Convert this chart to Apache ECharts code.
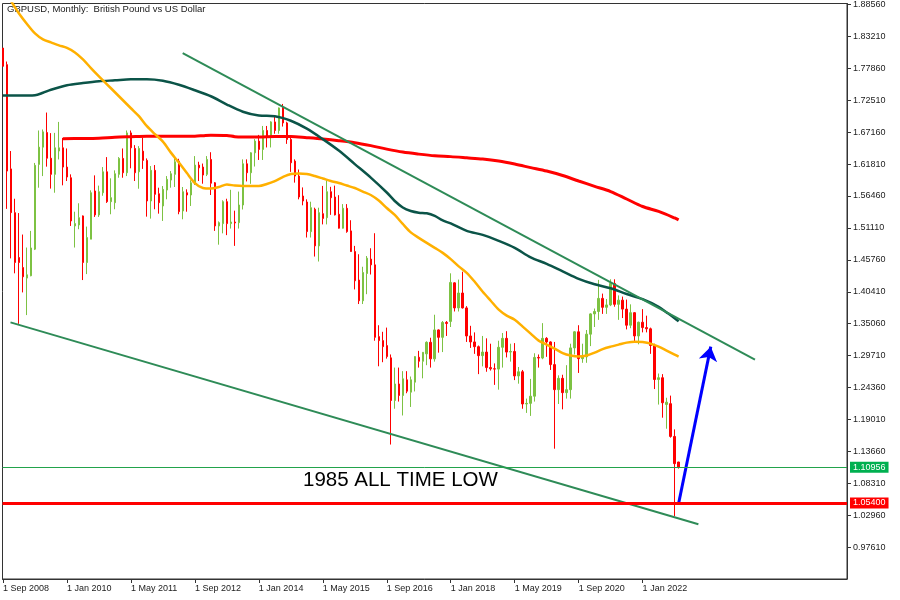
<!DOCTYPE html>
<html><head><meta charset="utf-8">
<script src="https://cdn.jsdelivr.net/npm/echarts@6/dist/echarts.min.js"></script>
<style>html,body{margin:0;padding:0;background:#fff}#c{width:900px;height:600px}</style>
</head><body><div id="c"></div>
<script>
// Monthly GBPUSD candles from Sep 2008, each [open, high, low, close]
const ohlc = [
[1.8126,1.8126,1.7820,1.7820],[1.7848,1.7900,1.5430,1.6064],[1.6100,1.6400,1.4600,1.5367],[1.5367,1.5600,1.4350,1.4531],
[1.4615,1.5360,1.3503,1.4531],[1.4447,1.5000,1.4030,1.4292],[1.4270,1.4782,1.3650,1.4325],[1.4309,1.5061,1.4300,1.4775],
[1.4755,1.6200,1.4740,1.6160],[1.6176,1.6744,1.5785,1.6465],[1.6465,1.6761,1.5980,1.6721],[1.6710,1.7045,1.6138,1.6279],
[1.6279,1.6700,1.5770,1.6009],[1.6009,1.6704,1.5701,1.6454],[1.6400,1.6888,1.6259,1.6454],[1.6454,1.6621,1.5825,1.6131],
[1.6131,1.6443,1.5897,1.5964],[1.5952,1.6009,1.5144,1.5228],[1.5144,1.5383,1.4782,1.5183],[1.5161,1.5524,1.5089,1.5283],
[1.5312,1.5320,1.4237,1.4531],[1.4531,1.5133,1.4337,1.4949],[1.4922,1.5741,1.4922,1.5701],[1.5730,1.5992,1.5295,1.5329],
[1.5329,1.5820,1.5295,1.5718],[1.5701,1.6131,1.5650,1.6052],[1.6052,1.6298,1.5530,1.5551],[1.5551,1.5942,1.5340,1.5618],
[1.5534,1.6076,1.5424,1.6019],[1.6009,1.6298,1.5952,1.6276],[1.6276,1.6443,1.5952,1.6036],[1.6036,1.6744,1.5980,1.6704],
[1.6704,1.6744,1.6110,1.6454],[1.6443,1.6499,1.5897,1.6036],[1.6052,1.6482,1.5768,1.6443],[1.6398,1.6621,1.6100,1.6243],
[1.6243,1.6276,1.5300,1.5563],[1.5563,1.6148,1.5267,1.6076],[1.6076,1.6165,1.5424,1.5674],[1.5684,1.5785,1.5350,1.5534],
[1.5479,1.5813,1.5228,1.5757],[1.5746,1.5980,1.5591,1.5925],[1.5913,1.6064,1.5785,1.6019],[1.6009,1.6286,1.5797,1.6220],
[1.6231,1.6270,1.5340,1.5384],[1.5395,1.5797,1.5256,1.5718],[1.5701,1.5758,1.5383,1.5663],[1.5663,1.5910,1.5479,1.5868],
[1.5852,1.6315,1.5830,1.6164],[1.6164,1.6220,1.5897,1.6119],[1.6131,1.6190,1.5852,1.5997],[1.6009,1.6315,1.5980,1.6259],
[1.6259,1.6380,1.5663,1.5860],[1.5868,1.5880,1.5061,1.5144],[1.5144,1.5220,1.4830,1.5199],[1.5183,1.5574,1.5020,1.5551],
[1.5551,1.5600,1.4990,1.5183],[1.5183,1.5750,1.5100,1.5210],[1.5210,1.5400,1.4810,1.5195],[1.5200,1.5720,1.5100,1.5495],
[1.5495,1.6260,1.5420,1.6186],[1.6186,1.6260,1.5890,1.6036],[1.6036,1.6380,1.5850,1.6370],[1.6370,1.6600,1.6140,1.6566],
[1.6566,1.6670,1.6250,1.6427],[1.6427,1.6820,1.6250,1.6744],[1.6744,1.6820,1.6460,1.6649],[1.6649,1.6900,1.6460,1.6888],
[1.6888,1.6990,1.6690,1.6744],[1.6744,1.7130,1.6690,1.7122],[1.7122,1.7189,1.6810,1.6871],[1.6871,1.6890,1.6520,1.6594],
[1.6594,1.6650,1.6050,1.6203],[1.6231,1.6260,1.5870,1.5980],[1.5980,1.6090,1.5590,1.5629],[1.5646,1.5790,1.5490,1.5562],
[1.5545,1.5590,1.4950,1.5049],[1.5049,1.5550,1.4950,1.5450],[1.5423,1.5450,1.4631,1.4810],[1.4810,1.5450,1.4548,1.5367],
[1.5350,1.5815,1.5170,1.5270],[1.5283,1.5908,1.5170,1.5718],[1.5718,1.5800,1.5330,1.5618],[1.5629,1.5820,1.5320,1.5329],
[1.5340,1.5660,1.5100,1.5106],[1.5106,1.5510,1.5100,1.5440],[1.5440,1.5510,1.5030,1.5049],[1.5061,1.5240,1.4710,1.4715],
[1.4715,1.4810,1.4080,1.4225],[1.4237,1.4670,1.3835,1.3890],[1.3890,1.4460,1.3835,1.4363],[1.4347,1.4640,1.4000,1.4604],
[1.4588,1.4770,1.4330,1.4492],[1.4492,1.5022,1.3220,1.3277],[1.3289,1.3480,1.2792,1.3222],[1.3222,1.3370,1.2860,1.3121],
[1.3138,1.3440,1.2920,1.2954],[1.2933,1.2990,1.1480,1.2218],[1.2218,1.2770,1.2080,1.2495],[1.2495,1.2770,1.2200,1.2302],
[1.2302,1.2710,1.1967,1.2582],[1.2565,1.2710,1.2340,1.2374],[1.2358,1.2620,1.2110,1.2565],[1.2525,1.2960,1.2370,1.2954],
[1.2943,1.3050,1.2770,1.2876],[1.2876,1.3030,1.2590,1.3026],[1.3000,1.3210,1.2810,1.3194],[1.3194,1.3270,1.2770,1.2916],
[1.2916,1.3656,1.2870,1.3401],[1.3401,1.3410,1.3020,1.3277],[1.3277,1.3550,1.3030,1.3527],[1.3527,1.3550,1.3300,1.3510],
[1.3544,1.4350,1.3450,1.4197],[1.4190,1.4200,1.3710,1.3770],[1.3770,1.4245,1.3710,1.4020],[1.4020,1.4377,1.3760,1.3770],
[1.3770,1.3800,1.3200,1.3300],[1.3300,1.3470,1.3100,1.3200],[1.3200,1.3360,1.3000,1.3120],[1.3120,1.3140,1.2660,1.2970],
[1.2970,1.3300,1.2790,1.3030],[1.3030,1.3260,1.2700,1.2770],[1.2770,1.3170,1.2720,1.2750],[1.2750,1.2840,1.2480,1.2745],
[1.2745,1.3220,1.2400,1.3110],[1.3110,1.3350,1.2770,1.3260],[1.3260,1.3380,1.2940,1.3030],[1.3030,1.3170,1.2870,1.3040],
[1.3040,1.3180,1.2560,1.2630],[1.2630,1.2780,1.2500,1.2700],[1.2700,1.2730,1.2080,1.2160],[1.2160,1.2250,1.2010,1.2170],
[1.2170,1.2580,1.1960,1.2290],[1.2290,1.3010,1.2200,1.2940],[1.2940,1.2990,1.2770,1.2930],[1.2930,1.3515,1.2910,1.3260],
[1.3260,1.3280,1.2950,1.3200],[1.3200,1.3210,1.2730,1.2820],[1.2820,1.3200,1.1410,1.2400],[1.2400,1.2640,1.2160,1.2590],
[1.2590,1.2650,1.2070,1.2350],[1.2350,1.2810,1.2250,1.2400],[1.2400,1.3170,1.2250,1.3100],[1.3100,1.3380,1.2990,1.3370],
[1.3370,1.3480,1.2680,1.2920],[1.2920,1.3170,1.2850,1.2950],[1.2950,1.3400,1.2850,1.3330],[1.3330,1.3680,1.3130,1.3670],
[1.3670,1.3760,1.3450,1.3710],[1.3710,1.4240,1.3570,1.3930],[1.3930,1.4010,1.3670,1.3780],[1.3780,1.3920,1.3670,1.3820],
[1.3820,1.4250,1.3800,1.4180],[1.4180,1.4250,1.3790,1.3830],[1.3830,1.3980,1.3570,1.3900],[1.3900,1.3960,1.3600,1.3750],
[1.3750,1.3910,1.3410,1.3480],[1.3480,1.3830,1.3430,1.3690],[1.3690,1.3700,1.3190,1.3300],[1.3300,1.3540,1.3160,1.3530],
[1.3530,1.3750,1.3360,1.3440],[1.3440,1.3640,1.3360,1.3420],[1.3420,1.3440,1.3000,1.3140],[1.3140,1.3170,1.2410,1.2570],
[1.2570,1.2670,1.2150,1.2600],[1.2600,1.2660,1.1930,1.2180],[1.2152,1.2264,1.1745,1.2190],[1.2165,1.2300,1.1595,1.1616],
[1.1616,1.1734,1.0280,1.1160],[1.1187,1.1190,1.1076,1.1096]
];

// Time axis: month index 0 = Sep 2008
const xTickIdx = [0,16,32,48,64,80,96,112,128,144,160];
const xTickLabels = ['1 Sep 2008','1 Jan 2010','1 May 2011','1 Sep 2012','1 Jan 2014','1 May 2015','1 Sep 2016','1 Jan 2018','1 May 2019','1 Sep 2020','1 Jan 2022'];
const yTicks = [1.88560,1.83210,1.77860,1.72510,1.67160,1.61810,1.56460,1.51110,1.45760,1.40410,1.35060,1.29710,1.24360,1.19010,1.13660,1.08310,1.02960,0.97610];

// Moving averages: [month index, price]
const maOrange = [[2,1.8915],[4,1.8706],[6,1.8530],[8,1.8371],[10,1.8271],[12,1.8221],[14,1.8171],[16,1.8129],[18,1.8053],[20,1.7936],[22,1.7791],[24,1.7652],[26,1.7519],[28,1.7385],[30,1.7251],[32,1.7117],[34,1.6984],[36,1.6816],[38,1.6683],[40,1.6557],[42,1.6373],[44,1.6206],[46,1.6030],[48,1.5863],[50,1.5780],[52,1.5771],[54,1.5796],[56,1.5838],[58,1.5821],[60,1.5813],[62,1.5813],[64,1.5813],[66,1.5847],[68,1.5897],[70,1.5964],[72,1.6014],[74,1.6025],[76,1.6014],[78,1.5980],[80,1.5939],[82,1.5897],[84,1.5863],[86,1.5821],[88,1.5780],[90,1.5721],[92,1.5663],[94,1.5571],[96,1.5445],[98,1.5328],[100,1.5178],[102,1.5036],[104,1.4944],[106,1.4860],[108,1.4777],[110,1.4693],[112,1.4588],[114,1.4467],[116,1.4359],[118,1.4208],[120,1.4041],[122,1.3890],[124,1.3740],[126,1.3640],[128,1.3573],[130,1.3456],[132,1.3339],[134,1.3222],[136,1.3155],[138,1.3088],[140,1.3013],[142,1.2971],[144,1.2954],[146,1.2971],[148,1.3021],[150,1.3080],[152,1.3121],[154,1.3155],[156,1.3188],[158,1.3205],[160,1.3197],[162,1.3172],[164,1.3121],[166,1.3055],[168,1.2988],[169,1.2954]];
const maTeal = [[0,1.7330],[4,1.7330],[8,1.7335],[10,1.7376],[12,1.7427],[16,1.7502],[20,1.7539],[24,1.7569],[28,1.7585],[32,1.7602],[36,1.7602],[40,1.7577],[44,1.7510],[48,1.7418],[52,1.7318],[56,1.7179],[60,1.7059],[64,1.6995],[68,1.6984],[72,1.6908],[76,1.6775],[80,1.6599],[84,1.6407],[88,1.6181],[92,1.5955],[96,1.5705],[98,1.5562],[100,1.5454],[102,1.5395],[104,1.5367],[106,1.5357],[108,1.5312],[110,1.5236],[112,1.5186],[116,1.5061],[120,1.4994],[124,1.4894],[128,1.4777],[132,1.4618],[136,1.4509],[140,1.4384],[144,1.4258],[148,1.4166],[152,1.4099],[156,1.4003],[160,1.3916],[164,1.3790],[166,1.3695],[168,1.3598],[169,1.3544]];
const maRed = [[15,1.6607],[20,1.6610],[24,1.6616],[28,1.6632],[32,1.6641],[36,1.6649],[40,1.6649],[44,1.6649],[48,1.6649],[50,1.6657],[52,1.6666],[56,1.6661],[58,1.6641],[60,1.6637],[64,1.6637],[68,1.6644],[72,1.6644],[76,1.6624],[80,1.6602],[84,1.6574],[88,1.6540],[92,1.6490],[96,1.6432],[100,1.6382],[104,1.6348],[108,1.6320],[112,1.6306],[116,1.6286],[120,1.6265],[124,1.6231],[128,1.6181],[132,1.6122],[136,1.6064],[140,1.5989],[144,1.5897],[148,1.5808],[152,1.5721],[156,1.5596],[160,1.5470],[164,1.5387],[168,1.5278],[169,1.5245]];

// Drawn objects: [month index, price]
const upperTrend = [[44.95,1.8042],[188.1,1.2904]];
const lowerTrend = [[1.875,1.3528],[173.95,1.0145]];
const arrowLine = [[168.95,1.0475],[177.05,1.3121]];
const priceNow = 1.10956;
const lowLevel = 1.05400;
const annotation = '1985 ALL TIME LOW';
const chartTitle = 'GBPUSD, Monthly:  British Pound vs US Dollar';

const GREEN = '#7dc243', RED = '#ff0000', FONT = 'Liberation Sans';
const chart = echarts.init(document.getElementById('c'), null, {renderer:'canvas'});
const lbl = (bg, v) => ({show:true, position:'end', distance:3, formatter:v.toFixed(5),
  backgroundColor:bg, color:'#fff', fontSize:9, fontFamily:FONT, padding:[1,3,1,3]});

chart.setOption({
  animation:false,
  grid:{left:2, right:53, top:2, bottom:21, show:true, borderColor:'#333', borderWidth:1, containLabel:false},
  xAxis:{type:'value', min:-0.125, max:211.125,
    axisLine:{show:true, onZero:false, lineStyle:{color:'#333'}},
    axisTick:{show:true, length:4, inside:false, customValues:xTickIdx, lineStyle:{color:'#333'}},
    axisLabel:{customValues:xTickIdx, align:'left', margin:5, fontSize:9, fontFamily:FONT, color:'#222',
      formatter:(v)=>xTickLabels[xTickIdx.indexOf(Math.round(v))] || ''},
    splitLine:{show:false}},
  yAxis:{type:'value', position:'right', min:0.92261, max:1.88727, scale:true,
    axisLine:{show:true, onZero:false, lineStyle:{color:'#333'}},
    axisTick:{show:true, length:4, inside:false, customValues:yTicks, lineStyle:{color:'#333'}},
    axisLabel:{customValues:yTicks, margin:6, fontSize:9, fontFamily:FONT, color:'#222',
      formatter:(v)=>v.toFixed(5)},
    splitLine:{show:false}},
  series:[
    {type:'candlestick', data:ohlc.map((d,i)=>[i,d[0],d[3],d[2],d[1]]), barWidth:2, silent:true, clip:true,
     itemStyle:{color:GREEN, color0:RED, borderColor:GREEN, borderColor0:RED, borderWidth:1},
     markLine:{silent:true, symbol:'none', animation:false,
       data:[
         {yAxis:priceNow, lineStyle:{color:'#22a34b', width:1, type:'solid'}, label:lbl('#00b050', priceNow)},
         {yAxis:lowLevel, lineStyle:{color:RED, width:3, type:'solid'}, label:lbl(RED, lowLevel)}
       ]}},
    {type:'line', data:maRed, showSymbol:false, smooth:0.3, silent:true, lineStyle:{color:'#ff0000', width:3}},
    {type:'line', data:maTeal, showSymbol:false, smooth:0.3, silent:true, lineStyle:{color:'#0b5448', width:2.5}},
    {type:'line', data:maOrange, showSymbol:false, smooth:0.3, silent:true, lineStyle:{color:'#ffb000', width:2.5}},
    {type:'line', data:upperTrend, showSymbol:false, silent:true, lineStyle:{color:'#2e8b57', width:2}},
    {type:'line', data:lowerTrend, showSymbol:false, silent:true, lineStyle:{color:'#2e8b57', width:2}},
    {type:'lines', coordinateSystem:'cartesian2d', silent:true, symbol:['none','arrow'], symbolSize:14,
     data:[{coords:arrowLine}], lineStyle:{color:'#0000ff', width:3, opacity:1}}
  ],
  graphic:[
    {type:'text', left:7, top:4, silent:true, style:{text:chartTitle, fontSize:9.5, fontFamily:FONT, fill:'#1a1a1a'}},
    {type:'text', x:303, y:480, silent:true, style:{text:annotation, fontSize:20.5, fontFamily:FONT, fill:'#000', verticalAlign:'middle'}}
  ]
});
</script></body></html>
